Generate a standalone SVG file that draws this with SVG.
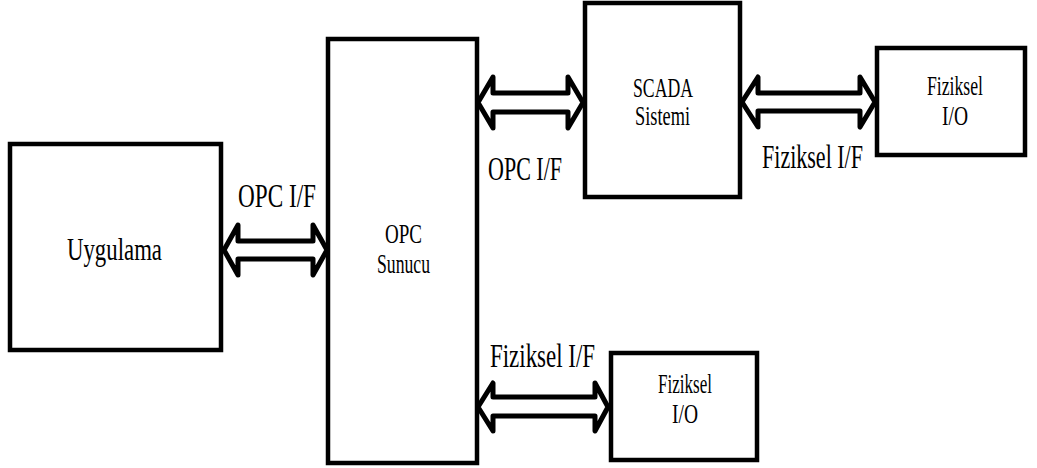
<svg xmlns="http://www.w3.org/2000/svg" width="1037" height="468" viewBox="0 0 1037 468">
<style>
.box{fill:#fff;stroke:#000;stroke-width:4.5}
.arr{fill:#fff;stroke:#000;stroke-width:5;stroke-linejoin:round}
.t{fill:#000;text-anchor:middle}
.lbl{font-size:33px}
.nl{font-size:28px}
</style>
<rect width="1037" height="468" fill="#fff"/>
<g font-family="'Liberation Serif', 'Times New Roman', serif">
<g id="uygulama">
<rect class="box" x="10" y="144" width="211" height="206"/>
<text class="t" x="114.5" y="260" font-size="31" textLength="95" lengthAdjust="spacingAndGlyphs">Uygulama</text>
</g>
<g id="opc-sunucu">
<rect class="box" x="328" y="39" width="149" height="424"/>
<text class="t nl" x="403.5" y="243" textLength="37" lengthAdjust="spacingAndGlyphs">OPC</text>
<text class="t nl" x="403.5" y="273" textLength="53" lengthAdjust="spacingAndGlyphs">Sunucu</text>
</g>
<g id="scada">
<rect class="box" x="585" y="3" width="155" height="194"/>
<text class="t nl" x="663" y="97" textLength="60" lengthAdjust="spacingAndGlyphs">SCADA</text>
<text class="t nl" x="662.5" y="125" textLength="55" lengthAdjust="spacingAndGlyphs">Sistemi</text>
</g>
<g id="fiziksel-io-1">
<rect class="box" x="877" y="48" width="148" height="107"/>
<text class="t nl" x="955" y="95" textLength="56" lengthAdjust="spacingAndGlyphs">Fiziksel</text>
<text class="t nl" x="955" y="125" textLength="26" lengthAdjust="spacingAndGlyphs">I/O</text>
</g>
<g id="fiziksel-io-2">
<rect class="box" x="611" y="353" width="146" height="107"/>
<text class="t nl" x="685" y="393" textLength="54" lengthAdjust="spacingAndGlyphs">Fiziksel</text>
<text class="t nl" x="685" y="423" textLength="26" lengthAdjust="spacingAndGlyphs">I/O</text>
</g>
<g id="connectors">
<path class="arr" d="M224,250 L238,225 L238,241 L313,241 L313,225 L327,250 L313,275 L313,259 L238,259 L238,275 Z"/>
<path class="arr" d="M478,102.5 L493,77 L493,93 L568,93 L568,77 L583,102.5 L568,128 L568,112 L493,112 L493,128 Z"/>
<path class="arr" d="M742,102 L758,77 L758,93 L860,93 L860,77 L875,102 L860,127 L860,111 L758,111 L758,127 Z"/>
<path class="arr" d="M478,407 L493,383 L493,397 L595,397 L595,383 L608,407 L595,431 L595,416 L493,416 L493,431 Z"/>
<text class="t lbl" x="277" y="207" textLength="78" lengthAdjust="spacingAndGlyphs">OPC I/F</text>
<text class="t lbl" x="525" y="180" textLength="74" lengthAdjust="spacingAndGlyphs">OPC I/F</text>
<text class="t lbl" x="812.5" y="168" textLength="101" lengthAdjust="spacingAndGlyphs">Fiziksel I/F</text>
<text class="t lbl" x="542.5" y="367" textLength="105" lengthAdjust="spacingAndGlyphs">Fiziksel I/F</text>
</g>
</g>
</svg>
